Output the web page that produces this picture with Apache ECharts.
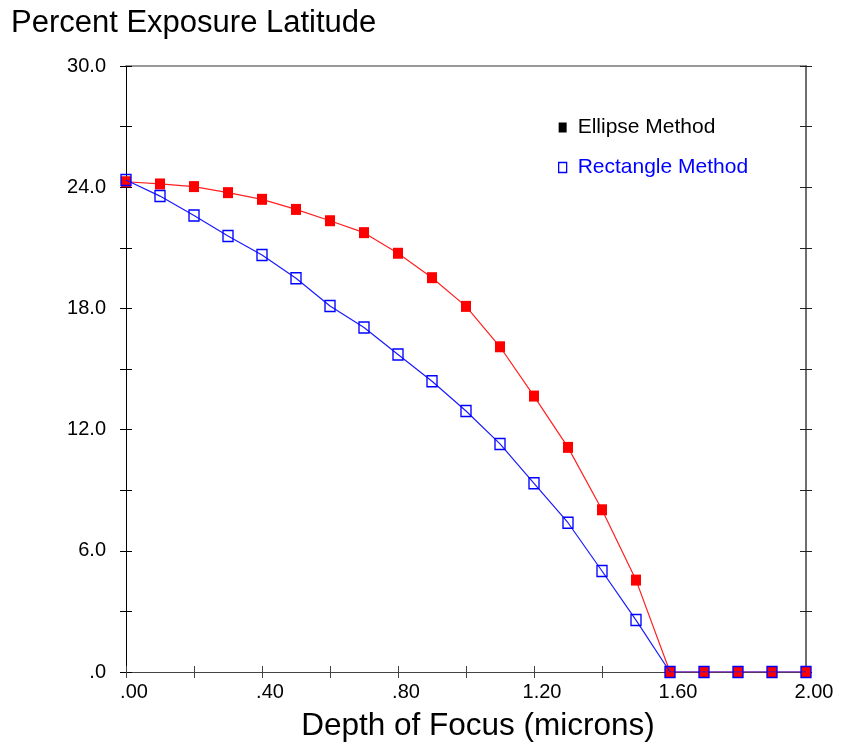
<!DOCTYPE html>
<html>
<head>
<meta charset="utf-8">
<script src="https://cdn.jsdelivr.net/npm/echarts@6/dist/echarts.min.js"></script>
<style>
html,body{margin:0;padding:0;background:#fff;}
#chart{width:843px;height:748px;}
</style>
</head>
<body>
<div id="chart"></div>
<script>
const depthOfFocus = [0.0, 0.1, 0.2, 0.3, 0.4, 0.5, 0.6, 0.7, 0.8, 0.9, 1.0, 1.1, 1.2, 1.3, 1.4, 1.5, 1.6, 1.7, 1.8, 1.9, 2.0];
const ellipseMethod = [24.27, 24.16, 24.03, 23.73, 23.4, 22.9, 22.34, 21.75, 20.73, 19.52, 18.1, 16.1, 13.66, 11.12, 8.03, 4.55, 0, 0, 0, 0, 0];
const rectangleMethod = [24.36, 23.56, 22.6, 21.58, 20.64, 19.49, 18.12, 17.05, 15.72, 14.39, 12.92, 11.29, 9.34, 7.39, 5.0, 2.57, 0, 0, 0, 0, 0];
const xTickLabels = ['.00', '.40', '.80', '1.20', '1.60', '2.00'];
const yTickLabels = ['.0', '6.0', '12.0', '18.0', '24.0', '30.0'];

const FONT = "'Liberation Sans', Arial, sans-serif";
const chart = echarts.init(document.getElementById('chart'), null, {renderer: 'canvas'});

function xLabel(v) {
  const k = Math.round(v * 100);
  if (k % 40 !== 0) return '';
  return xTickLabels[k / 40] || '';
}
function yLabel(v) {
  const k = Math.round(v);
  if (k % 6 !== 0) return '';
  return yTickLabels[k / 6] || '';
}

const xBase = {type: 'value', min: 0, max: 2, interval: 0.2, splitLine: {show: false}};
const yBase = {type: 'value', min: 0, max: 30, interval: 3, splitLine: {show: false}};

const option = {
  backgroundColor: '#fff',
  animation: false,
  title: {
    text: 'Percent Exposure Latitude',
    left: 6, top: 3,
    textStyle: {fontFamily: FONT, fontSize: 31, fontWeight: 'normal', color: '#000'}
  },
  grid: {left: 126, right: 37, top: 66, bottom: 76, containLabel: false},
  legend: {
    orient: 'vertical',
    left: 553, top: 112,
    itemGap: 19,
    itemWidth: 8, itemHeight: 10,
    textStyle: {fontFamily: FONT, fontSize: 21, padding: [0, 0, 0, 6]},
    data: [
      {name: 'Ellipse Method', icon: 'rect', itemStyle: {color: '#000', borderWidth: 0}, textStyle: {color: '#000'}},
      {name: 'Rectangle Method', icon: 'rect', itemStyle: {color: 'rgba(255,255,255,0)', borderColor: '#0000ff', borderWidth: 1.3}, textStyle: {color: '#0000ff'}}
    ]
  },
  xAxis: [
    Object.assign({}, xBase, {
      position: 'bottom',
      axisLine: {show: true, onZero: false, lineStyle: {color: '#444', width: 1}},
      axisTick: {show: true, inside: false, length: 6, lineStyle: {color: '#444'}},
      axisLabel: {
        show: true, margin: 10, formatter: xLabel,
        fontFamily: FONT, fontSize: 20, color: '#000', padding: [0, 0, 0, 16]
      },
      name: 'Depth of Focus (microns)',
      nameLocation: 'middle', nameGap: 38,
      nameTextStyle: {fontFamily: FONT, fontSize: 31.5, color: '#000', padding: [0, 0, 0, 24]}
    }),
    Object.assign({}, xBase, {
      position: 'bottom',
      axisLine: {show: false, onZero: false},
      axisTick: {show: true, inside: true, length: 6, lineStyle: {color: '#444'}},
      axisLabel: {show: false}
    }),
    Object.assign({}, xBase, {
      position: 'top',
      axisLine: {show: true, onZero: false, lineStyle: {color: '#777', width: 1.5}},
      axisTick: {show: false},
      axisLabel: {show: false}
    })
  ],
  yAxis: [
    Object.assign({}, yBase, {
      position: 'left',
      axisLine: {show: true, onZero: false, lineStyle: {color: '#000', width: 1}},
      axisTick: {show: true, inside: false, length: 6, lineStyle: {color: '#000'}},
      axisLabel: {show: true, margin: 20, formatter: yLabel, fontFamily: FONT, fontSize: 20, color: '#000'}
    }),
    Object.assign({}, yBase, {
      position: 'left',
      axisLine: {show: false, onZero: false},
      axisTick: {show: true, inside: true, length: 6, lineStyle: {color: '#000'}},
      axisLabel: {show: false}
    }),
    Object.assign({}, yBase, {
      position: 'right',
      axisLine: {show: true, onZero: false, lineStyle: {color: '#6e6e6e', width: 2}},
      axisTick: {show: true, inside: false, length: 6, lineStyle: {color: '#222'}},
      axisLabel: {show: false}
    }),
    Object.assign({}, yBase, {
      position: 'right',
      axisLine: {show: false, onZero: false},
      axisTick: {show: true, inside: true, length: 6, lineStyle: {color: '#222'}},
      axisLabel: {show: false}
    })
  ],
  series: [
    {
      name: 'Ellipse Method',
      type: 'line',
      xAxisIndex: 0, yAxisIndex: 0,
      data: depthOfFocus.map((x, i) => [x, ellipseMethod[i]]),
      symbol: 'rect', symbolSize: [10, 11],
      itemStyle: {color: '#ff0000'},
      lineStyle: {color: '#ff2020', width: 1.2},
      clip: true, z: 2
    },
    {
      name: 'Rectangle Method',
      type: 'line',
      xAxisIndex: 0, yAxisIndex: 0,
      data: depthOfFocus.map((x, i) => [x, rectangleMethod[i]]),
      symbol: 'rect', symbolSize: [10, 11],
      itemStyle: {color: 'rgba(255,255,255,0)', borderColor: '#0000ff', borderWidth: 1.4},
      lineStyle: {color: '#1a1aff', width: 1.2},
      clip: true, z: 3
    }
  ]
};
chart.setOption(option);
</script>
</body>
</html>
